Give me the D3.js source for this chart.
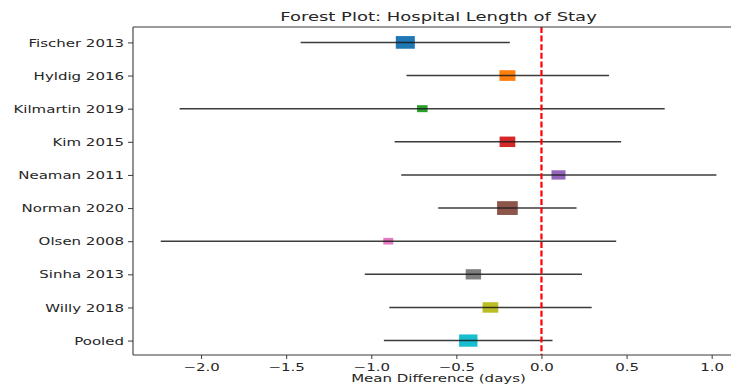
<!DOCTYPE html>
<html>
<head>
<meta charset="utf-8">
<script src="https://cdn.jsdelivr.net/npm/d3@7/dist/d3.min.js"></script>
<style>
  html, body { margin: 0; padding: 0; background: #fff; }
  svg { display: block; }
  text { font-family: "DejaVu Sans", sans-serif; fill: #262626; }
</style>
</head>
<body>
<svg id="chart" width="731" height="385"></svg>
<script>
// ---- data ----
const studies = ["Fischer 2013", "Hyldig 2016", "Kilmartin 2019", "Kim 2015", "Neaman 2011",
                 "Norman 2020", "Olsen 2008", "Sinha 2013", "Willy 2018", "Pooled"];
const meanDiff = [-0.80, -0.20, -0.70, -0.20, 0.10, -0.20, -0.90, -0.40, -0.30, -0.43];
const ciLower  = [-1.415, -0.793, -2.126, -0.863, -0.824, -0.607, -2.237, -1.038, -0.894, -0.926];
const ciUpper  = [-0.186, 0.397, 0.724, 0.468, 1.028, 0.206, 0.439, 0.238, 0.295, 0.065];
const weights  = [19, 16, 10.5, 15.7, 14, 20.7, 10, 15.4, 15.7, 18.4];
const xTicks   = [-2.0, -1.5, -1.0, -0.5, 0.0, 0.5, 1.0];
const colors   = ["#1f77b4", "#ff7f0e", "#2ca02c", "#d62728", "#9467bd",
                  "#8c564b", "#e377c2", "#7f7f7f", "#bcbd22", "#17becf"];
const titleText = "Forest Plot: Hospital Length of Stay";
const xLabelText = "Mean Difference (days)";

// ---- layout ----
const svg = d3.select("#chart");
const mLeft = 133, mRight = 744, mTop = 27, mBottom = 355;
const SX = 1.5; // horizontal stretch of text

const x = d3.scaleLinear().domain([-2.40, 1.19]).range([mLeft, mRight]);
const y = d3.scalePoint().domain(studies).range([mTop + 0.5, mBottom + 0.5]).padding(0.45);
const wScale = d3.scaleLinear().domain([0, 1]).range([0, 1]);

const rows = studies.map((s, i) => ({
  name: s, md: meanDiff[i], lo: ciLower[i], hi: ciUpper[i], w: weights[i], c: colors[i]
}));

function stretchedText(g, tx, ty, str, size, anchor) {
  return g.append("text")
    .attr("transform", `translate(${tx},${ty}) scale(${SX},1)`)
    .attr("text-anchor", anchor)
    .attr("font-size", size)
    .text(str);
}

// markers
svg.append("g").selectAll("rect").data(rows).join("rect")
  .attr("x", d => x(d.md) - wScale(d.w) / 2)
  .attr("y", d => y(d.name) - wScale(d.w) / SX / 2)
  .attr("width", d => wScale(d.w))
  .attr("height", d => wScale(d.w) / SX)
  .attr("fill", d => d.c);

// CI lines
svg.append("g").selectAll("line").data(rows).join("line")
  .attr("x1", d => x(d.lo)).attr("x2", d => x(d.hi))
  .attr("y1", d => y(d.name)).attr("y2", d => y(d.name))
  .attr("stroke", "#1a1a1a").attr("stroke-width", 1.5).attr("stroke-opacity", 0.85);

// reference line at zero
svg.append("line")
  .attr("x1", x(0)).attr("x2", x(0)).attr("y1", mTop).attr("y2", mBottom)
  .attr("stroke", "#ff0000").attr("stroke-width", 2.2)
  .attr("stroke-dasharray", "6,2.6");

// spines
const spine = svg.append("g").attr("stroke", "#3a3a3a").attr("stroke-width", 1.1).attr("fill", "none");
spine.append("line").attr("x1", mLeft).attr("x2", mLeft).attr("y1", mTop).attr("y2", mBottom);
spine.append("line").attr("x1", mLeft).attr("x2", mRight).attr("y1", mTop).attr("y2", mTop);
spine.append("line").attr("x1", mLeft).attr("x2", mRight).attr("y1", mBottom).attr("y2", mBottom);
spine.append("line").attr("x1", mRight).attr("x2", mRight).attr("y1", mTop).attr("y2", mBottom);

// x axis ticks
const xAxis = d3.axisBottom(x).tickValues(xTicks).tickSize(4).tickFormat(d3.format(".1f"));
const gx = svg.append("g").attr("transform", `translate(0,${mBottom})`).call(xAxis);
gx.select(".domain").remove();
gx.selectAll(".tick line").attr("stroke", "#3a3a3a").attr("stroke-width", 1);
gx.selectAll(".tick text").remove();
gx.selectAll(".tick").each(function(d) {
  stretchedText(d3.select(this), 0, 15.5, d3.format(".1f")(d).replace("-", "\u2212"), 10, "middle");
});

// y axis ticks
const yAxis = d3.axisLeft(y).tickSize(5);
const gy = svg.append("g").attr("transform", `translate(${mLeft},0)`).call(yAxis);
gy.select(".domain").remove();
gy.selectAll(".tick line").attr("stroke", "#3a3a3a").attr("stroke-width", 1);
gy.selectAll(".tick text").remove();
gy.selectAll(".tick").each(function(d) {
  stretchedText(d3.select(this), -9, 3.6, d, 10, "end");
});

// title and x label
stretchedText(svg, (mLeft + mRight) / 2, 21, titleText, 12, "middle");
stretchedText(svg, (mLeft + mRight) / 2, 382, xLabelText, 10, "middle");
</script>
</body>
</html>
